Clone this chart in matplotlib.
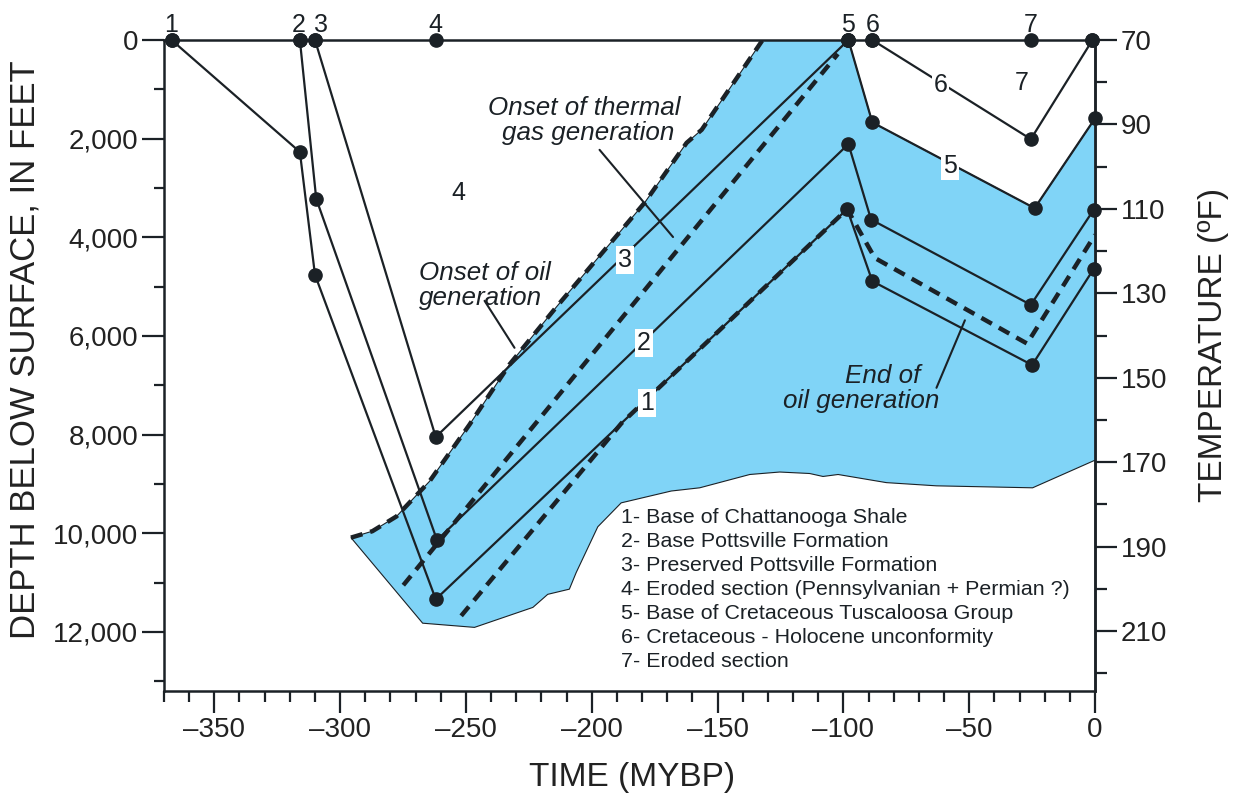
import matplotlib.pyplot as plt
from matplotlib.ticker import MultipleLocator, FixedLocator, FuncFormatter

plt.rcParams["font.family"] = ["Liberation Sans", "DejaVu Sans"]

INK = "#1b2126"
BLUE = "#80d4f7"

# ── Burial paths (time in MYBP as negative, depth in feet) ───────
h1_time = [-367, -316, -310, -262, -98.5, -88.5, -25, -0.5]
h1_depth = [0, 2270, 4760, 11340, 3430, 4890, 6590, 4640]
h2_time = [-316, -309.5, -261.5, -98, -89, -25.5, -0.5]
h2_depth = [0, 3220, 10140, 2110, 3640, 5370, 3440]
h3_time = [-310, -262, -98]
h3_depth = [0, 8050, 0]
h5_time = [-98, -88.5, -24, 0]
h5_depth = [0, 1670, 3410, 1590]
h6_time = [-88.5, -25.5, -1]
h6_depth = [0, 2010, 0]

surface_time = [-367, -316, -310, -262, -98, -88.5, -25.5, -1]
surface_labels = ["1", "2", "3", "4", "5", "6", "7", ""]

# ── Shaded window outline ────────────────────────────────────────
window_time = [-295.7, -287.2, -277.6, -264.5, -248.6, -232.7, -214, -179, -162.3, -156.3, -132.1,
               -98, -88.5, -24, 0, 0, -24.8, -63, -82.9, -102.1, -108.1, -113.4, -125.3, -137.2,
               -157.1, -168.4, -188.3, -197.6, -206.2, -208.9, -217.5, -223.4, -246.6, -267.2]
window_depth = [10090, 9960, 9660, 8950, 7800, 6580, 5410, 3300, 2085, 1820, 0,
                0, 1670, 3410, 1590, 8520, 9080, 9040, 8975, 8810, 8850, 8790, 8760, 8810,
                9080, 9145, 9385, 9870, 10800, 11135, 11240, 11505, 11910, 11825]

# ── Generation thresholds (dashed) ───────────────────────────────
oil_onset_time = [-295.7, -287.2, -277.6, -264.5, -248.6, -232.7, -214, -179, -162.3, -156.3, -132.1]
oil_onset_depth = [10090, 9960, 9660, 8950, 7800, 6580, 5410, 3300, 2085, 1820, 0]
gas_onset_time = [-274.9, -102.2]
gas_onset_depth = [11055, 283]
oil_end_time = [-251.9, -188.2, -98.5, -87.5, -27, 0]
oil_end_depth = [11676, 7771, 3430, 4420, 6155, 3950]

legend_items = [
    "1- Base of Chattanooga Shale",
    "2- Base Pottsville Formation",
    "3- Preserved Pottsville Formation",
    "4- Eroded section (Pennsylvanian + Permian ?)",
    "5- Base of Cretaceous Tuscaloosa Group",
    "6- Cretaceous - Holocene unconformity",
    "7- Eroded section",
]

TEMP_PER_FT = 0.01168


def depth_to_temp(d):
    return 70 + d * TEMP_PER_FT


def temp_to_depth(t):
    return (t - 70) / TEMP_PER_FT


fig = plt.figure(figsize=(12.35, 7.96), dpi=100)
ax = fig.add_axes([164 / 1235, 1 - 691 / 796, 931 / 1235, 651 / 796])

ax.fill(window_time, window_depth, facecolor=BLUE, edgecolor=INK, linewidth=0.8, zorder=1)

dash = dict(color=INK, linewidth=3.2, linestyle=(0, (2.7, 1.8)), dash_capstyle="butt", zorder=3)
ax.plot(oil_onset_time, oil_onset_depth, **dash)
ax.plot(gas_onset_time, gas_onset_depth, **dash)
ax.plot(oil_end_time, oil_end_depth, **dash)

line = dict(color=INK, linewidth=1.6, marker="o", markersize=9.5, zorder=4, clip_on=False)
for t, d in [(h1_time, h1_depth), (h2_time, h2_depth), (h3_time, h3_depth),
             (h5_time, h5_depth), (h6_time, h6_depth)]:
    ax.plot(t, d, **line)

ax.plot(surface_time, [0] * len(surface_time), linestyle="none", color=INK, marker="o",
        markersize=9.5, zorder=5, clip_on=False)
label_nudge = {"2": -1, "3": 4}
for t, lab in zip(surface_time, surface_labels):
    ax.annotate(lab, (t, 0), xytext=(label_nudge.get(lab, 0), 6), textcoords="offset points",
                ha="center", va="baseline", fontsize=18, color=INK, annotation_clip=False)

# ── Horizon and section labels ───────────────────────────────────
box = dict(boxstyle="square,pad=0.08", facecolor="white", edgecolor="none")
for lab, t, d in [("3", -186.6, 4454), ("2", -179.4, 6145), ("1", -178.2, 7370),
                  ("5", -57.7, 2551), ("6", -61.4, 911)]:
    ax.text(t, d, lab, fontsize=18, color=INK, ha="center", va="center", bbox=box, zorder=6)
ax.text(-29.2, 877, "7", fontsize=18, color=INK, ha="center", va="center", zorder=6)
ax.text(-252.9, 3104, "4", fontsize=18, color=INK, ha="center", va="center", zorder=6)

# ── Threshold annotations ────────────────────────────────────────
lead = dict(arrowstyle="-", color=INK, lw=1.5, shrinkA=0, shrinkB=0)
note = dict(fontsize=18.7, style="italic", color=INK, va="center")
ax.annotate("", xy=(-230.7, 6241), xytext=(-242.6, 5288), arrowprops=lead)
ax.text(-268.5, 4720, "Onset of oil", ha="left", **note)
ax.text(-268.5, 5230, "generation", ha="left", **note)

ax.annotate("", xy=(-167.7, 3995), xytext=(-196.9, 2227), arrowprops=lead)
ax.text(-203, 1380, "Onset of thermal", ha="center", **note)
ax.text(-201.5, 1880, "gas generation", ha="center", **note)

ax.annotate("", xy=(-51.7, 5683), xytext=(-63, 7052), arrowprops=lead)
ax.text(-84.3, 6810, "End of", ha="center", **note)
ax.text(-93, 7310, "oil generation", ha="center", **note)

for i, item in enumerate(legend_items):
    ax.text(-188.5, 9680 + i * 486, item, fontsize=15.4, color=INK, ha="left", va="center", zorder=6)

# ── Axes ─────────────────────────────────────────────────────────
ax.set_xlim(-370, 0)
ax.set_ylim(13200, 0)
ax.xaxis.set_major_locator(MultipleLocator(50))
ax.xaxis.set_minor_locator(MultipleLocator(10))
ax.yaxis.set_major_locator(MultipleLocator(2000))
ax.yaxis.set_minor_locator(MultipleLocator(1000))
ax.yaxis.set_major_formatter(FuncFormatter(lambda v, p: f"{v:,.0f}"))
ax.xaxis.set_major_formatter(FuncFormatter(lambda v, p: f"{v:.0f}".replace("-", "\u2013")))

for side in ["left", "right", "top", "bottom"]:
    ax.spines[side].set_color(INK)
    ax.spines[side].set_linewidth(1.8)

ax.tick_params(which="major", direction="out", length=15.5, width=1.6, color=INK,
               labelsize=20, labelcolor="#222222", pad=3)
ax.tick_params(which="minor", direction="out", length=8, width=1.6, color=INK)
ax.tick_params(axis="y", which="minor", length=7.5)

ax.set_xlabel("TIME (MYBP)", fontsize=24, color="#222222")
ax.xaxis.set_label_coords(0.503, -0.1336)
ax.xaxis.label.set_va("center")
ax.set_ylabel("DEPTH BELOW SURFACE, IN FEET", fontsize=25, color="#222222", va="center")
ax.yaxis.set_label_coords(-0.149, 0.525)

temp_ax = ax.secondary_yaxis("right", functions=(depth_to_temp, temp_to_depth))
temp_ax.yaxis.set_major_locator(FixedLocator(range(70, 211, 20)))
temp_ax.yaxis.set_minor_locator(FixedLocator(range(80, 221, 20)))
temp_ax.spines["right"].set_color(INK)
temp_ax.spines["right"].set_linewidth(1.8)
temp_ax.tick_params(which="major", direction="out", length=15.5, width=1.6, color=INK,
                    labelsize=20, labelcolor="#222222", pad=3)
temp_ax.tick_params(which="minor", direction="out", length=8.5, width=1.6, color=INK)
temp_ax.set_ylabel("TEMPERATURE (\u00baF)", fontsize=24, color="#222222", va="center",
                   rotation=90)
temp_ax.yaxis.set_label_coords(1.127, 0.531, transform=ax.transAxes)

fig.savefig("out.png", dpi=100, facecolor="white")
